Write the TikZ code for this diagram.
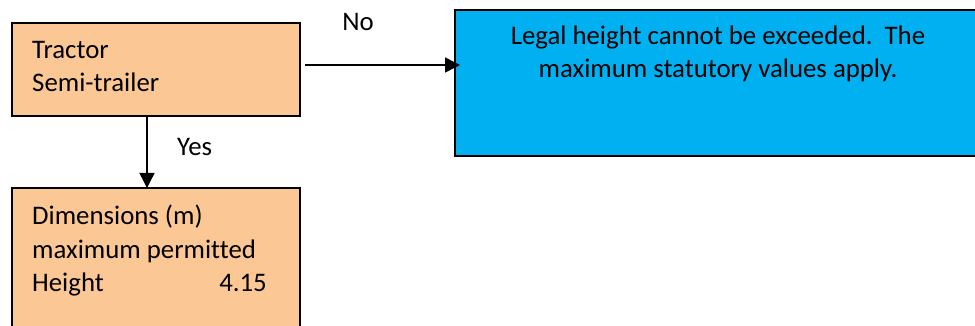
\documentclass[tikz,border=0pt]{standalone}
\usepackage{fontspec}
\setmainfont{Carlito}[Ligatures={NoCommon}]
\usetikzlibrary{arrows.meta}
\definecolor{peach}{HTML}{FBC794}
\definecolor{skyb}{HTML}{00B0F0}
\tikzset{
  box/.style={draw=black, line width=2pt, inner sep=0pt, outer sep=0pt},
  txt/.style={inner sep=0pt, font=\fontsize{26.8}{33}\selectfont},
  arr/.style={draw=black, line width=1.4pt, -{Triangle[length=15pt,width=15pt]}}
}
\begin{document}
\begin{tikzpicture}[x=1pt,y=-1pt]
\useasboundingbox (0,0) rectangle (975,326);
\clip (0,0) rectangle (975,326);
\fill[white] (0,0) rectangle (975,326);
% boxes
\node[box, fill=peach, minimum width=288pt, minimum height=93pt] (trac) at (156,69.5) {};
\node[box, fill=peach, minimum width=288pt, minimum height=160pt] (dim) at (156,268) {};
\node[box, fill=skyb, minimum width=526pt, minimum height=146pt] (legal) at (718,83) {};
% texts
\node[txt, anchor=base west] (t1) at (32,59) {Tractor};
\node[txt, anchor=base west] (t2) at (32,92) {Semi-trailer};
\node[txt, anchor=base west] (d1) at (32,225) {Dimensions (m)};
\node[txt, anchor=base west] (d2) at (32,258) {maximum permitted};
\node[txt, anchor=base west] (d3) at (32,291) {Height};
\node[txt, anchor=base east] (d4) at (267,291) {4.15};
\node[txt, anchor=base] (l1) at (718,45) {Legal height cannot be exceeded.\ \ The};
\node[txt, anchor=base] (l2) at (718,78) {maximum statutory values apply.};
% connectors
\draw[arr] ([shift={(5,-4.5)}]trac.east) -- ([shift={(5,-4.5)}]trac.east -| legal.west);
\draw[arr] ([xshift=-9pt]trac.south) -- ([xshift=-9pt]dim.north);
% labels
\node[txt, anchor=base] (no) at (358,31) {No};
\node[txt, anchor=base west] (yes) at (177,156) {Yes};
\end{tikzpicture}
\end{document}
